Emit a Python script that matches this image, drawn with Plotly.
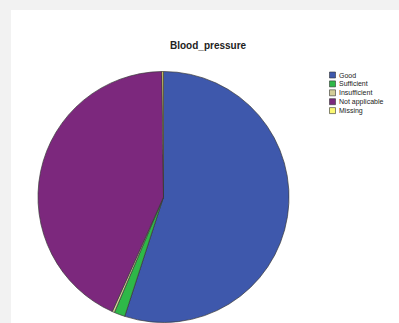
import plotly.graph_objects as go

categories = ["Good", "Sufficient", "Insufficient", "Not applicable", "Missing"]
values = [55.0, 1.4, 0.3, 43.1, 0.2]
colors = ["#3E58AC", "#2EB848", "#D3CE97", "#7C287D", "#FBF873"]
title_text = "Blood_pressure"

W, H = 399, 323

def px(x):
    return x / W

def py(y):
    return 1 - y / H

fig = go.Figure(go.Pie(
    labels=categories,
    values=values,
    marker=dict(colors=colors, line=dict(color="#3a3a3a", width=0.7)),
    sort=False,
    direction="clockwise",
    rotation=0,
    textinfo="none",
    hoverinfo="label+percent",
    showlegend=False,
    domain=dict(x=[px(38), px(289)], y=[py(322.5), py(71.5)]),
))

shapes = [dict(type="rect", xref="paper", yref="paper",
               x0=px(11), x1=1.0, y0=0.0, y1=py(10),
               fillcolor="white", line=dict(width=0), layer="below")]
annotations = []
lx0, lx1 = 329.5, 335.5
ly0, dy = 75, 8.9
for i, (cat, col) in enumerate(zip(categories, colors)):
    yc = ly0 + i * dy
    shapes.append(dict(type="rect", xref="paper", yref="paper",
                       x0=px(lx0), x1=px(lx1), y0=py(yc + 3), y1=py(yc - 3),
                       fillcolor=col, line=dict(color="#333333", width=0.6)))
    annotations.append(dict(text=cat, xref="paper", yref="paper",
                            x=px(336.5), y=py(yc), xanchor="left", yanchor="middle",
                            showarrow=False,
                            font=dict(family="Liberation Sans, Arial", size=7, color="#222222")))

annotations.append(dict(text="<b>" + title_text + "</b>", xref="paper", yref="paper",
                        x=px(208), y=py(46), xanchor="center", yanchor="middle",
                        showarrow=False,
                        font=dict(family="Liberation Sans, Arial", size=10, color="#222222")))

fig.update_layout(
    width=W, height=H,
    margin=dict(l=0, r=0, t=0, b=0),
    paper_bgcolor="#f2f2f2",
    plot_bgcolor="#f2f2f2",
    shapes=shapes,
    annotations=annotations,
)

fig.write_html(
    "out.html",
    config={"displayModeBar": False},
    post_script="document.body.style.margin='0';document.body.style.overflow='hidden';document.body.style.background='#f2f2f2';",
)
